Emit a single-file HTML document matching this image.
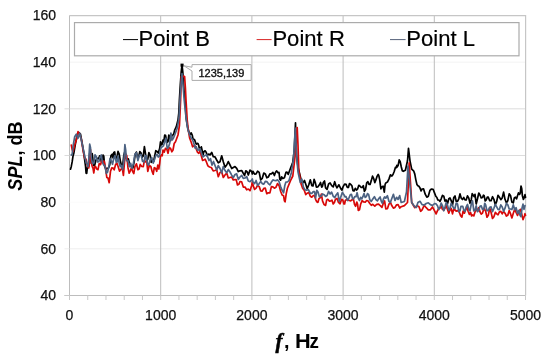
<!DOCTYPE html><html><head><meta charset="utf-8"><style>html,body{margin:0;padding:0;background:#fff;overflow:hidden;width:550px;height:360px;}svg{display:block;will-change:transform;}text{font-family:"Liberation Sans",sans-serif;}</style></head><body>
<svg width="550" height="360" viewBox="0 0 550 360">
<rect width="550" height="360" fill="#fff"/>
<line x1="69.5" y1="248.83" x2="525.5" y2="248.83" stroke="#eeeeee" stroke-width="1"/>
<line x1="69.5" y1="202.17" x2="525.5" y2="202.17" stroke="#fbfbfb" stroke-width="1"/>
<line x1="69.5" y1="155.50" x2="525.5" y2="155.50" stroke="#dcdcdc" stroke-width="1"/>
<line x1="69.5" y1="108.83" x2="525.5" y2="108.83" stroke="#dcdcdc" stroke-width="1"/>
<line x1="69.5" y1="62.17" x2="525.5" y2="62.17" stroke="#f3f3f3" stroke-width="1"/>
<line x1="160.70" y1="15.5" x2="160.70" y2="295.5" stroke="#bdbdbd" stroke-width="1"/>
<line x1="251.90" y1="15.5" x2="251.90" y2="295.5" stroke="#bdbdbd" stroke-width="1"/>
<line x1="343.10" y1="15.5" x2="343.10" y2="295.5" stroke="#bdbdbd" stroke-width="1"/>
<line x1="434.30" y1="15.5" x2="434.30" y2="295.5" stroke="#bdbdbd" stroke-width="1"/>
<polyline points="69.5,15.6 525.6,15.6 525.6,295.5" fill="none" stroke="#c6c6c6" stroke-width="1.2"/>
<line x1="69.5" y1="15.5" x2="69.5" y2="295.5" stroke="#bdbdbd" stroke-width="1"/>
<line x1="64.5" y1="295.5" x2="525.5" y2="295.5" stroke="#bdbdbd" stroke-width="1"/>
<line x1="64.5" y1="295.50" x2="69.5" y2="295.50" stroke="#c8c8c8" stroke-width="1"/>
<line x1="64.5" y1="248.83" x2="69.5" y2="248.83" stroke="#eeeeee" stroke-width="1"/>
<line x1="64.5" y1="202.17" x2="69.5" y2="202.17" stroke="#fbfbfb" stroke-width="1"/>
<line x1="64.5" y1="155.50" x2="69.5" y2="155.50" stroke="#dcdcdc" stroke-width="1"/>
<line x1="64.5" y1="108.83" x2="69.5" y2="108.83" stroke="#dcdcdc" stroke-width="1"/>
<line x1="69.50" y1="295.5" x2="69.50" y2="300" stroke="#c8c8c8" stroke-width="1"/>
<line x1="87.74" y1="295.5" x2="87.74" y2="300" stroke="#c8c8c8" stroke-width="1"/>
<line x1="105.98" y1="295.5" x2="105.98" y2="300" stroke="#c8c8c8" stroke-width="1"/>
<line x1="124.22" y1="295.5" x2="124.22" y2="300" stroke="#c8c8c8" stroke-width="1"/>
<line x1="142.46" y1="295.5" x2="142.46" y2="300" stroke="#c8c8c8" stroke-width="1"/>
<line x1="160.70" y1="295.5" x2="160.70" y2="300" stroke="#c8c8c8" stroke-width="1"/>
<line x1="178.94" y1="295.5" x2="178.94" y2="300" stroke="#c8c8c8" stroke-width="1"/>
<line x1="197.18" y1="295.5" x2="197.18" y2="300" stroke="#c8c8c8" stroke-width="1"/>
<line x1="215.42" y1="295.5" x2="215.42" y2="300" stroke="#c8c8c8" stroke-width="1"/>
<line x1="233.66" y1="295.5" x2="233.66" y2="300" stroke="#c8c8c8" stroke-width="1"/>
<line x1="251.90" y1="295.5" x2="251.90" y2="300" stroke="#c8c8c8" stroke-width="1"/>
<line x1="270.14" y1="295.5" x2="270.14" y2="300" stroke="#c8c8c8" stroke-width="1"/>
<line x1="288.38" y1="295.5" x2="288.38" y2="300" stroke="#c8c8c8" stroke-width="1"/>
<line x1="306.62" y1="295.5" x2="306.62" y2="300" stroke="#c8c8c8" stroke-width="1"/>
<line x1="324.86" y1="295.5" x2="324.86" y2="300" stroke="#c8c8c8" stroke-width="1"/>
<line x1="343.10" y1="295.5" x2="343.10" y2="300" stroke="#c8c8c8" stroke-width="1"/>
<line x1="361.34" y1="295.5" x2="361.34" y2="300" stroke="#c8c8c8" stroke-width="1"/>
<line x1="379.58" y1="295.5" x2="379.58" y2="300" stroke="#c8c8c8" stroke-width="1"/>
<line x1="397.82" y1="295.5" x2="397.82" y2="300" stroke="#c8c8c8" stroke-width="1"/>
<line x1="416.06" y1="295.5" x2="416.06" y2="300" stroke="#c8c8c8" stroke-width="1"/>
<line x1="434.30" y1="295.5" x2="434.30" y2="300" stroke="#c8c8c8" stroke-width="1"/>
<line x1="452.54" y1="295.5" x2="452.54" y2="300" stroke="#c8c8c8" stroke-width="1"/>
<line x1="470.78" y1="295.5" x2="470.78" y2="300" stroke="#c8c8c8" stroke-width="1"/>
<line x1="489.02" y1="295.5" x2="489.02" y2="300" stroke="#c8c8c8" stroke-width="1"/>
<line x1="507.26" y1="295.5" x2="507.26" y2="300" stroke="#c8c8c8" stroke-width="1"/>
<line x1="525.50" y1="295.5" x2="525.50" y2="300" stroke="#c8c8c8" stroke-width="1"/>
<g fill="none" stroke-linejoin="round" stroke-linecap="round" stroke-width="1.7">
<polyline stroke="#000000" points="70.5,169.2 71.3,166.4 72.2,161.7 73.0,156.2 73.8,153.3 75.5,143.3 77.2,135.0 78.8,132.5 80.5,134.2 82.2,143.3 83.8,153.3 85.5,165.8 86.1,173.2 86.7,173.3 87.3,168.2 88.0,165.0 88.8,166.3 89.7,153.3 90.5,154.3 91.3,163.3 92.2,153.5 93.0,160.0 93.8,165.7 94.7,165.0 96.0,159.9 97.2,158.3 98.5,158.8 99.7,155.8 100.5,156.9 101.3,161.7 102.2,161.2 103.0,155.0 103.8,156.3 104.7,166.7 106.0,169.1 107.2,168.3 108.5,168.0 109.7,165.0 111.0,155.6 112.2,154.2 113.0,157.8 113.8,152.5 114.7,152.0 115.5,158.3 116.8,157.9 118.0,151.4 119.2,154.1 120.3,160.6 121.4,165.2 122.6,166.7 123.8,155.3 124.9,151.4 126.1,158.3 127.2,159.0 128.3,158.8 129.5,163.6 130.7,166.1 131.8,166.7 132.9,167.8 134.1,162.1 135.2,154.1 136.4,152.1 137.6,157.6 138.7,156.7 139.8,151.7 141.0,152.9 142.2,157.2 143.3,155.9 144.4,146.6 145.6,154.4 146.7,161.1 147.8,159.0 148.9,152.7 150.1,155.2 151.2,162.4 152.4,160.5 153.6,161.5 154.7,155.9 155.8,150.7 157.0,151.4 158.3,153.0 159.7,148.3 160.5,141.8 161.3,145.0 162.2,144.1 163.0,140.0 163.8,141.9 164.7,135.0 165.5,135.2 166.3,139.2 167.2,142.4 168.0,141.7 168.8,135.0 169.7,136.7 170.5,140.7 171.3,137.5 172.2,135.3 173.0,135.0 173.8,133.8 174.7,130.0 176.3,126.7 178.0,120.0 178.8,113.0 179.4,100.0 180.3,85.0 181.2,72.0 182.0,64.9 182.8,72.0 183.3,80.0 184.0,90.0 185.0,100.0 185.7,110.0 186.3,119.0 187.5,126.7 188.8,131.7 190.5,134.2 191.3,133.0 192.2,135.0 193.0,138.9 193.8,139.2 194.7,139.9 195.5,142.5 196.3,144.2 197.2,143.3 198.0,143.5 198.8,145.8 199.7,150.0 200.5,148.3 201.3,146.8 202.2,150.8 203.0,155.0 203.8,151.7 205.1,150.8 206.3,152.5 207.2,156.0 208.0,154.5 209.0,154.0 210.0,155.0 211.7,152.4 213.3,156.7 215.0,156.8 216.7,160.0 218.3,162.8 220.0,161.7 221.7,155.8 223.3,161.7 225.0,167.1 226.7,165.0 228.3,161.6 230.0,165.0 231.7,168.5 233.3,167.5 235.0,166.6 236.7,168.3 238.3,171.6 240.0,170.8 241.7,170.5 243.3,173.3 244.6,175.5 245.8,170.8 247.1,171.7 248.3,175.0 250.0,170.1 251.7,171.5 252.3,174.0 253.0,171.4 254.6,174.2 256.1,173.9 257.6,171.2 259.2,172.4 260.7,180.0 262.2,178.5 263.8,173.0 265.3,173.9 266.8,177.8 268.3,177.0 269.9,173.9 271.4,173.9 272.9,172.4 274.4,175.5 275.5,172.3 276.7,170.9 277.9,172.7 279.0,172.4 279.8,179.1 280.6,180.1 281.7,176.9 282.8,178.5 284.4,177.7 285.9,172.4 287.0,172.1 288.2,174.4 290.5,168.3 292.8,162.2 294.3,150.0 295.5,122.8 296.5,155.0 298.0,167.2 300.3,176.4 301.9,182.7 303.4,182.5 304.5,180.4 305.7,184.0 307.2,188.7 308.8,184.8 310.3,179.8 311.8,185.6 313.0,186.0 314.1,179.4 315.2,182.2 316.4,187.1 317.9,186.8 319.4,184.8 320.5,182.5 321.7,187.1 322.5,186.1 323.3,182.5 324.5,181.0 325.6,187.8 327.1,189.3 328.6,184.0 330.1,182.9 331.7,185.6 333.2,186.9 334.7,181.7 335.9,185.6 337.0,187.8 338.9,184.8 340.8,188.6 342.0,190.1 343.1,186.7 344.6,184.1 346.1,184.4 347.2,187.3 348.4,187.5 349.5,183.5 350.7,184.4 351.9,185.8 353.0,190.6 354.1,190.9 355.3,188.3 356.5,190.1 357.6,189.0 358.8,185.3 359.9,186.0 361.0,187.3 362.2,187.5 363.3,185.7 364.4,191.3 365.5,189.5 366.7,182.9 367.9,181.7 369.0,184.4 370.1,184.5 371.3,180.6 372.5,176.1 373.6,178.3 374.8,182.6 375.9,179.9 377.0,176.4 378.2,174.5 378.9,175.8 379.7,179.9 380.9,188.8 382.0,186.7 383.1,186.2 384.3,192.1 385.1,184.5 385.8,182.9 387.4,182.1 388.9,179.1 390.4,174.9 391.9,176.0 393.0,174.5 394.2,171.5 395.4,167.4 396.5,167.6 396.8,165.4 397.1,167.0 398.1,165.6 399.2,159.8 400.2,161.6 401.3,167.0 402.3,170.7 403.3,171.3 405.4,170.2 407.5,160.8 408.5,148.3 410.0,160.8 411.7,169.2 413.8,171.2 414.8,174.1 415.8,179.6 416.9,184.4 417.9,185.8 418.9,186.3 420.0,187.9 421.1,190.9 422.1,189.0 423.6,188.9 425.2,194.2 426.8,197.2 428.3,196.2 429.9,190.4 431.5,189.0 433.1,189.3 434.6,193.1 435.8,196.3 436.9,197.5 437.8,200.0 438.8,200.0 440.0,201.3 441.2,198.8 442.5,195.4 443.8,196.2 445.0,201.1 446.2,200.0 447.5,203.8 448.8,198.8 450.0,198.0 451.2,200.6 452.5,205.2 453.8,197.5 455.0,195.9 456.2,201.2 457.5,201.3 458.8,198.8 460.0,193.9 461.2,198.1 462.5,199.5 463.8,197.5 465.0,200.0 466.2,200.0 467.5,195.8 468.8,198.1 470.0,203.3 471.2,200.0 472.2,193.7 473.1,195.0 474.1,196.6 475.0,194.4 476.2,204.0 477.5,198.8 478.8,193.0 480.0,195.0 481.2,197.9 482.5,197.5 483.4,195.2 484.2,195.8 485.2,201.0 486.2,200.0 487.3,197.1 488.3,197.2 489.7,200.7 491.1,200.7 492.5,196.7 493.9,199.3 495.3,204.8 496.7,201.4 498.0,195.3 499.4,197.2 500.8,199.7 502.2,197.9 503.6,192.1 505.0,199.3 506.4,202.8 507.8,200.7 509.2,193.8 510.6,195.8 511.9,202.2 513.3,202.8 514.3,197.9 515.4,197.2 516.5,198.9 517.5,195.8 518.5,192.9 519.6,194.4 520.3,192.8 521.0,186.1 521.7,188.4 522.4,195.8 523.4,199.5 524.4,197.2 525.0,194.6 525.5,197.3"/>
<polyline stroke="#d80808" points="71.3,145.0 72.2,149.6 73.0,151.7 74.7,145.0 76.3,140.0 78.0,131.7 79.7,134.2 81.3,139.2 83.0,150.0 84.7,158.3 86.0,159.2 87.2,164.7 88.0,167.2 88.8,168.0 89.7,157.0 90.5,149.7 91.3,162.5 92.2,166.3 93.0,168.2 93.8,173.0 94.7,166.5 95.5,166.3 96.8,169.1 98.0,169.7 99.2,163.6 100.5,164.7 101.8,160.6 103.0,162.2 104.2,161.1 105.5,168.0 106.8,177.4 108.0,178.0 109.2,182.7 110.5,171.3 111.8,167.9 113.0,168.0 114.2,169.9 115.5,164.7 116.8,162.9 118.0,166.2 119.5,171.1 121.1,169.3 122.2,167.4 123.4,175.4 124.6,160.9 125.7,154.0 126.8,155.8 128.0,167.7 129.2,173.2 130.3,170.8 131.4,167.7 132.6,171.3 133.8,173.6 134.9,166.7 136.4,163.8 137.9,169.7 139.1,169.1 140.2,164.4 141.8,166.5 143.3,166.7 144.4,160.4 145.6,162.0 146.7,161.5 147.8,171.3 149.4,165.3 150.9,166.7 152.1,171.4 153.2,174.3 154.3,167.7 155.5,168.2 156.7,171.3 157.8,165.1 158.8,169.0 159.7,163.3 160.5,156.0 161.3,155.0 162.2,155.8 163.0,150.0 164.2,152.2 165.5,148.3 166.8,149.0 168.0,153.3 169.2,147.7 170.5,148.3 171.8,151.8 173.0,150.0 174.2,143.5 175.5,141.7 178.0,135.0 179.5,125.0 180.6,100.0 181.3,76.5 182.3,77.5 183.3,76.0 184.6,76.5 185.4,88.0 186.0,100.0 186.6,110.0 187.2,120.0 188.3,130.0 189.7,138.3 191.3,142.5 192.6,146.8 193.8,145.8 195.1,145.8 196.3,149.2 197.6,152.4 198.8,153.3 200.1,150.8 201.3,155.8 202.6,160.4 203.8,160.0 205.1,159.2 206.3,161.7 207.9,165.9 209.5,167.0 211.3,167.5 213.2,170.9 215.0,170.5 216.7,169.8 218.3,176.7 220.0,172.5 221.7,171.7 223.3,177.5 225.0,175.0 226.7,173.1 228.3,178.0 230.0,177.5 231.7,177.0 233.3,180.0 235.0,179.5 236.2,179.6 237.5,185.0 238.8,184.3 240.0,181.5 241.7,181.9 243.3,187.1 245.0,187.0 246.7,189.8 248.3,189.0 250.0,190.7 251.7,185.5 252.3,181.9 253.0,185.1 254.6,189.4 256.1,188.2 257.6,185.3 259.2,186.6 260.7,190.9 262.2,191.2 263.8,188.3 265.3,188.2 266.8,193.7 268.3,192.8 269.9,192.9 271.4,186.6 272.9,186.8 274.4,188.2 275.9,187.3 277.5,183.6 279.1,185.6 280.6,191.2 282.1,195.0 283.6,195.8 284.4,200.8 285.1,201.9 286.2,193.9 287.4,188.2 290.5,180.6 292.8,176.0 295.1,156.1 296.2,140.0 297.2,127.5 298.0,145.0 298.8,170.3 301.1,184.0 302.6,188.1 304.2,190.1 305.7,194.6 307.2,193.2 308.8,192.4 310.3,196.3 311.8,197.2 313.3,195.5 314.5,195.6 315.6,199.3 316.8,201.8 317.9,202.4 319.0,198.6 320.2,197.8 321.4,194.1 322.5,200.8 324.1,204.6 325.6,205.4 326.7,199.9 327.8,199.3 329.4,201.1 330.9,200.8 332.0,200.2 333.2,203.9 334.4,202.4 335.5,199.3 337.0,198.5 338.5,202.4 340.1,203.8 341.6,199.3 342.8,200.0 343.9,203.9 344.6,204.0 345.3,200.5 347.2,199.2 349.2,200.5 350.7,200.8 352.2,199.7 353.4,198.9 354.5,204.3 355.6,206.3 356.8,202.0 357.6,204.3 358.3,210.4 359.5,209.8 360.6,204.3 362.1,200.6 363.7,202.0 365.2,202.1 366.7,200.5 368.2,201.0 369.8,203.5 371.3,205.3 372.8,204.3 374.8,206.1 376.7,204.3 378.6,204.2 380.5,205.8 382.0,207.3 383.5,202.8 384.6,200.9 385.8,208.9 387.4,208.6 388.9,204.3 390.4,202.3 391.9,205.8 393.4,208.1 395.0,207.4 396.6,204.8 398.1,204.6 399.7,208.0 401.2,206.7 404.4,205.6 407.5,202.5 409.2,162.9 410.4,181.7 411.7,202.5 414.8,207.7 416.9,205.6 419.0,206.7 420.6,211.3 422.1,209.8 424.2,205.3 426.2,207.7 428.3,209.8 430.4,209.8 432.5,207.0 434.6,210.8 436.1,213.9 437.5,210.6 438.8,208.3 440.0,208.1 441.2,206.1 442.5,209.4 443.8,210.2 445.0,208.1 446.2,205.8 447.5,209.4 448.8,213.1 450.0,210.0 451.2,208.5 452.5,213.8 453.8,208.9 455.0,210.0 456.2,211.1 457.5,210.6 459.1,211.8 460.6,215.6 461.9,217.1 463.1,211.2 464.4,213.2 465.6,210.0 466.9,206.7 468.1,211.2 469.4,214.4 470.6,212.5 471.6,216.0 472.5,215.0 473.8,215.9 475.0,211.9 476.2,208.1 477.5,211.2 478.8,207.6 480.0,211.9 481.2,214.2 482.5,213.1 484.1,208.1 485.6,211.1 487.0,217.2 488.3,215.3 489.7,207.9 491.1,212.5 492.5,218.5 493.9,216.7 495.3,212.4 496.7,213.9 498.0,214.8 499.4,211.8 500.8,211.4 502.2,213.9 503.6,211.4 505.0,213.2 506.4,216.0 507.8,215.3 509.2,210.5 510.6,213.9 511.9,217.9 513.3,213.2 514.7,209.2 516.1,212.5 517.5,215.4 518.9,211.8 520.3,209.3 521.7,213.9 523.0,219.6 524.4,216.0 525.0,213.7 525.5,215.5"/>
<polyline stroke="#4c6282" points="71.3,155.0 72.2,154.2 73.0,146.7 74.7,136.7 76.3,134.2 78.0,138.3 79.7,133.3 81.3,140.0 83.8,151.7 86.3,163.3 87.2,163.8 88.0,166.7 88.8,159.2 89.7,144.2 90.5,147.8 91.3,158.3 92.5,163.5 93.8,163.3 95.0,154.8 96.3,156.7 97.5,162.0 98.8,161.7 100.0,157.4 101.3,155.0 102.5,162.5 103.8,165.0 105.0,165.9 106.3,173.3 107.5,172.2 108.8,166.7 110.0,158.5 111.3,160.8 112.5,164.3 113.8,158.3 115.0,155.6 116.3,162.5 117.2,161.6 118.0,156.0 119.2,162.9 120.3,166.7 121.4,165.4 122.6,169.7 123.8,162.0 124.9,144.5 125.7,150.2 126.5,160.6 128.0,160.8 129.5,166.7 130.7,163.4 131.8,168.2 133.4,163.5 134.9,154.4 136.4,152.7 137.9,160.6 139.4,155.3 141.0,154.4 142.5,161.2 144.0,162.0 145.2,155.6 146.3,156.0 147.4,163.6 148.6,165.1 150.1,160.2 151.7,157.5 153.2,163.1 154.7,159.0 155.8,155.7 157.0,154.4 158.2,157.0 159.3,156.0 160.8,148.2 162.2,146.7 163.4,145.9 164.7,141.7 165.9,138.2 167.2,148.3 168.4,147.4 169.7,143.3 170.9,133.1 172.2,140.0 173.4,138.1 174.7,135.0 177.2,128.3 179.0,118.0 180.0,100.0 181.0,85.0 182.0,73.7 183.0,85.0 184.2,100.0 185.5,113.0 186.8,123.0 188.0,130.0 189.7,135.0 191.3,138.3 192.6,139.7 193.8,143.3 195.1,148.1 196.3,146.7 197.6,150.2 198.8,150.0 200.1,148.7 201.3,152.5 203.0,156.9 204.7,155.5 206.8,154.9 209.0,160.5 210.5,158.7 212.0,165.1 213.5,161.5 215.0,165.5 216.7,169.9 218.3,165.6 220.0,168.5 221.7,172.9 223.3,166.5 225.0,170.5 226.7,172.8 228.3,169.6 230.0,172.0 231.7,175.1 233.3,177.5 235.0,174.5 236.7,173.9 238.3,179.4 240.0,177.0 241.7,175.4 243.3,178.4 245.0,178.0 246.7,176.6 248.3,181.0 250.0,181.7 251.7,180.0 252.3,179.0 253.0,182.1 254.6,183.7 256.1,180.5 257.6,185.4 259.2,183.6 260.7,181.6 262.2,183.6 263.8,184.2 265.3,181.3 266.8,181.6 268.3,183.6 269.9,184.9 271.4,182.1 272.9,179.9 274.4,180.5 275.9,180.7 277.5,179.8 279.1,181.8 280.6,186.6 282.1,190.3 283.6,192.8 284.8,185.5 285.9,182.1 287.4,182.0 289.0,180.5 291.3,172.9 293.5,159.2 295.3,128.0 296.5,155.0 298.0,171.8 300.3,182.5 301.9,179.2 303.4,187.1 304.9,189.7 306.5,190.1 308.4,189.7 310.3,193.2 311.8,193.3 313.3,191.7 314.5,191.7 315.6,197.8 316.8,190.4 317.9,191.7 319.4,196.8 321.0,196.3 322.5,193.9 324.0,194.7 325.6,196.4 327.1,195.5 328.6,191.4 330.1,194.0 331.6,192.1 333.2,196.3 334.8,197.5 336.3,194.7 337.8,192.9 339.3,201.3 340.8,197.0 342.4,192.4 343.9,194.7 345.0,196.9 346.1,196.7 347.6,200.5 349.2,197.4 350.4,194.5 351.5,194.4 352.6,198.9 353.8,198.2 354.9,196.6 356.0,196.7 357.1,192.7 358.3,198.2 359.5,200.5 360.6,197.4 361.8,198.9 362.9,196.7 364.0,193.6 365.2,197.4 366.4,196.5 367.5,193.6 368.6,194.4 369.8,199.7 371.3,201.4 372.8,199.0 374.4,196.7 375.9,199.7 377.4,200.9 379.0,198.2 380.1,197.0 381.3,201.3 382.4,203.2 383.5,199.0 384.6,196.9 385.8,198.2 387.4,195.6 388.9,201.3 390.4,202.4 391.9,198.2 393.4,194.3 395.0,200.5 396.6,197.3 398.1,199.4 399.7,195.6 401.2,202.5 404.4,201.5 406.5,192.0 408.0,166.0 409.6,181.7 411.7,202.5 414.8,206.7 416.4,207.4 417.9,202.5 420.0,201.3 422.1,204.6 424.2,205.0 426.2,203.5 428.3,202.8 430.4,204.6 432.5,205.5 434.6,203.5 436.1,203.9 437.5,205.8 438.8,209.6 440.0,207.0 441.2,203.1 442.5,205.8 443.8,210.8 445.0,207.0 446.2,202.5 447.5,205.1 448.8,210.4 450.0,208.2 451.2,203.3 452.5,205.8 453.8,208.3 455.0,208.2 456.2,203.0 457.5,203.9 458.8,211.7 460.0,210.8 460.9,206.4 461.9,206.4 462.8,206.4 463.8,210.1 465.0,211.3 466.2,207.0 467.5,204.4 468.8,209.5 470.0,210.8 471.2,204.5 472.5,200.9 473.8,210.8 475.0,210.4 476.2,205.8 477.5,211.7 478.8,210.1 480.0,206.3 481.2,205.8 482.5,209.4 483.8,209.5 484.7,203.3 485.6,204.8 487.0,210.8 488.3,210.3 489.7,207.3 491.1,206.9 492.5,211.7 493.9,208.2 495.3,204.4 496.7,206.9 498.0,209.3 499.4,209.6 500.8,204.9 502.2,206.9 503.6,211.3 505.0,208.2 506.4,203.4 507.8,204.8 509.2,208.9 510.6,209.0 511.9,209.5 513.3,204.8 514.7,209.8 516.1,207.6 517.5,213.3 518.9,210.3 520.0,215.3 521.0,216.7 522.0,208.3 523.0,204.2 524.0,209.3 525.0,205.6"/>
</g>
<rect x="180.5" y="63.6" width="3.1" height="3.1" fill="#000"/>
<path d="M192,64.6 H251.2 V80.4 H192 V71 L184,65.8 L192,67.2 Z" fill="#fff" stroke="#ababab" stroke-width="1"/>
<text x="221.4" y="77.2" font-size="11" text-anchor="middle" fill="#111111" stroke="#111111" stroke-width="0.35">1235,139</text>
<rect x="74.5" y="22.6" width="444.5" height="33.2" fill="#fff" stroke="#ababab" stroke-width="1.2"/>
<line x1="123" y1="39.6" x2="138" y2="39.6" stroke="#000000" stroke-width="1"/>
<text x="138.6" y="46.3" font-size="22" fill="#000" stroke="#000" stroke-width="0.2" letter-spacing="0.05">Point B</text>
<line x1="256.6" y1="39.6" x2="271.6" y2="39.6" stroke="#d82424" stroke-width="1"/>
<text x="272.4" y="46.3" font-size="22" fill="#000" stroke="#000" stroke-width="0.2" letter-spacing="0.05">Point R</text>
<line x1="390" y1="39.6" x2="405.6" y2="39.6" stroke="#56627a" stroke-width="1"/>
<text x="406.2" y="46.3" font-size="22" fill="#000" stroke="#000" stroke-width="0.2" letter-spacing="0.05">Point L</text>
<text x="56" y="300.30" font-size="14" text-anchor="end" fill="#111111" stroke="#111111" stroke-width="0.25">40</text>
<text x="56" y="253.63" font-size="14" text-anchor="end" fill="#111111" stroke="#111111" stroke-width="0.25">60</text>
<text x="56" y="206.97" font-size="14" text-anchor="end" fill="#111111" stroke="#111111" stroke-width="0.25">80</text>
<text x="56" y="160.30" font-size="14" text-anchor="end" fill="#111111" stroke="#111111" stroke-width="0.25">100</text>
<text x="56" y="113.63" font-size="14" text-anchor="end" fill="#111111" stroke="#111111" stroke-width="0.25">120</text>
<text x="56" y="66.97" font-size="14" text-anchor="end" fill="#111111" stroke="#111111" stroke-width="0.25">140</text>
<text x="56" y="20.30" font-size="14" text-anchor="end" fill="#111111" stroke="#111111" stroke-width="0.25">160</text>
<text x="69.50" y="319.8" font-size="14" text-anchor="middle" fill="#111111" stroke="#111111" stroke-width="0.25">0</text>
<text x="160.70" y="319.8" font-size="14" text-anchor="middle" fill="#111111" stroke="#111111" stroke-width="0.25">1000</text>
<text x="251.90" y="319.8" font-size="14" text-anchor="middle" fill="#111111" stroke="#111111" stroke-width="0.25">2000</text>
<text x="343.10" y="319.8" font-size="14" text-anchor="middle" fill="#111111" stroke="#111111" stroke-width="0.25">3000</text>
<text x="434.30" y="319.8" font-size="14" text-anchor="middle" fill="#111111" stroke="#111111" stroke-width="0.25">4000</text>
<text x="525.50" y="319.8" font-size="14" text-anchor="middle" fill="#111111" stroke="#111111" stroke-width="0.25">5000</text>
<text transform="translate(21.8,156) rotate(-90)" font-size="19.8" font-weight="bold" text-anchor="middle" fill="#000" textLength="69.3" lengthAdjust="spacingAndGlyphs"><tspan font-style="italic">SPL</tspan>, dB</text>
<text x="275.5" y="348" font-size="21" font-weight="bold" font-style="italic" fill="#000" stroke="#000" stroke-width="0.5" style="font-family:'Liberation Serif'">f</text>
<text x="284" y="348" font-size="19.8" font-weight="bold" fill="#000">,</text>
<text x="295" y="348" font-size="19.8" font-weight="bold" fill="#000" transform="translate(295,0) scale(1.1,1) translate(-295,0)">H</text>
<text x="309.6" y="348" font-size="19.8" font-weight="bold" fill="#000" transform="translate(309.6,0) scale(0.95,1) translate(-309.6,0)">z</text>
</svg></body></html>
